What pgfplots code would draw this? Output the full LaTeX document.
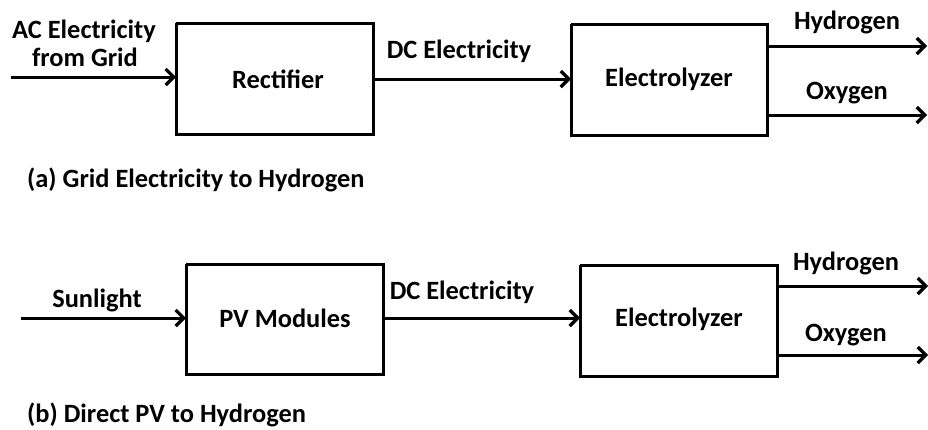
\documentclass[border=0pt]{standalone}
\usepackage{fontspec}
\setmainfont{Carlito}
\usepackage{pgfplots}
\pgfplotsset{compat=1.18}
\usetikzlibrary{arrows.meta}
\tikzset{lab/.style={font=\fontsize{26.5}{30}\selectfont\bfseries, inner sep=0pt}}
\begin{document}
\begin{tikzpicture}
\begin{axis}[
  width=928bp, height=430bp, scale only axis,
  xmin=0, xmax=928, ymin=0, ymax=430, y dir=reverse,
  axis lines=none, clip=false,
  box/.style={black, line width=3bp, line join=miter, no marks},
  arr/.style={black, line width=3bp, no marks, -{Straight Barb[length=8bp,width=16bp,line width=3.2bp]}},
]
% ---- (a) ----
\addplot[box] coordinates {(176,23) (373,23) (373,134) (176,134) (176,23)};
\addplot[box] coordinates {(571,24) (767,24) (767,135) (571,135) (571,24)};
\addplot[arr] coordinates {(11,77) (176,77)};
\addplot[arr] coordinates {(373,79) (571,79)};
\addplot[arr] coordinates {(767,46) (927,46)};
\addplot[arr] coordinates {(767,115) (927,115)};
\node[lab] at (axis cs:84,31) {AC Electricity};
\node[lab] at (axis cs:85,57) {from Grid};
\node[lab] at (axis cs:278,79) {Rectifier};
\node[lab] at (axis cs:459,51) {DC Electricity};
\node[lab] at (axis cs:669,79) {Electrolyzer};
\node[lab] at (axis cs:847,22) {Hydrogen};
\node[lab] at (axis cs:847,93) {Oxygen};
\node[lab, anchor=west] at (axis cs:27,180) {(a) Grid Electricity to Hydrogen};
% ---- (b) ----
\addplot[box] coordinates {(186,264) (383,264) (383,374) (186,374) (186,264)};
\addplot[box] coordinates {(580,265) (777,265) (777,376) (580,376) (580,265)};
\addplot[arr] coordinates {(21,318) (186,318)};
\addplot[arr] coordinates {(383,318) (580,318)};
\addplot[arr] coordinates {(777,286) (928,286)};
\addplot[arr] coordinates {(777,355) (928,355)};
\node[lab] at (axis cs:97,300) {Sunlight};
\node[lab] at (axis cs:285,318) {PV Modules};
\node[lab] at (axis cs:462,292) {DC Electricity};
\node[lab] at (axis cs:679,319) {Electrolyzer};
\node[lab] at (axis cs:846,263) {Hydrogen};
\node[lab] at (axis cs:846,335) {Oxygen};
\node[lab, anchor=west] at (axis cs:27,415) {(b) Direct PV to Hydrogen};
\end{axis}
\pgfresetboundingbox
\path (current axis.south west) rectangle (current axis.north east);
\end{tikzpicture}
\end{document}
